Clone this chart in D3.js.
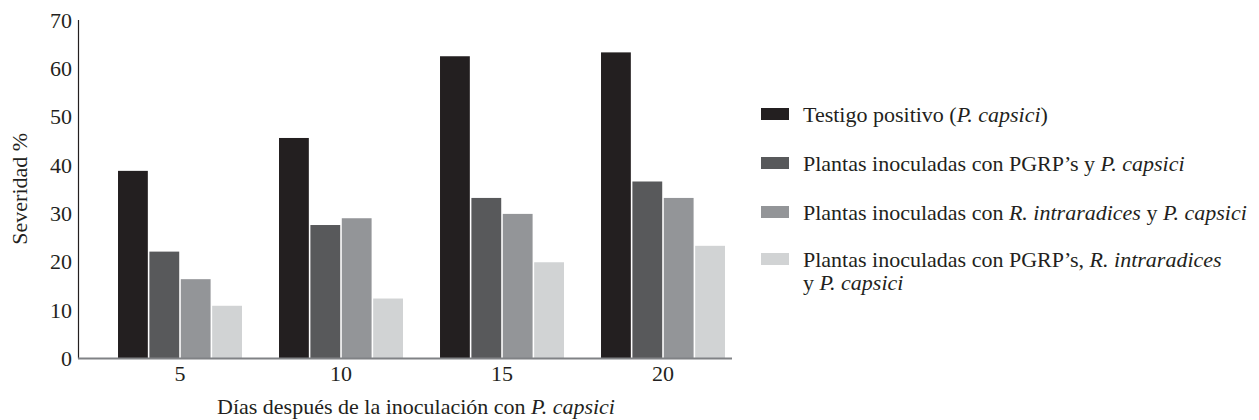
<!DOCTYPE html>
<html>
<head>
<meta charset="utf-8">
<script src="https://cdn.jsdelivr.net/npm/d3@7"></script>
<style>
  html, body { margin: 0; padding: 0; background: #fff; }
  svg { display: block; }
  text { font-family: "Liberation Serif", "DejaVu Serif", serif; fill: #231f20; }
</style>
</head>
<body>
<svg id="chart" width="1259" height="420"></svg>
<script>
const categories = ["5", "10", "15", "20"];
const seriesNames = ["testigo", "pgrp", "rintra", "ambos"];
const testigo = [38.7, 45.5, 62.4, 63.2];
const pgrp = [22.0, 27.5, 33.1, 36.5];
const rintra = [16.3, 28.9, 29.8, 33.1];
const ambos = [10.8, 12.3, 19.8, 23.2];
const seriesColors = ["#231f20", "#58595b", "#939598", "#d1d3d4"];
const yTicks = [0, 10, 20, 30, 40, 50, 60, 70];
const legendLines = [
  [[{t: "Testigo positivo (", i: false}, {t: "P. capsici", i: true}, {t: ")", i: false}]],
  [[{t: "Plantas inoculadas con PGRP\u2019s y ", i: false}, {t: "P. capsici", i: true}]],
  [[{t: "Plantas inoculadas con ", i: false}, {t: "R. intraradices", i: true}, {t: " y ", i: false}, {t: "P. capsici", i: true}]],
  [[{t: "Plantas inoculadas con PGRP\u2019s, ", i: false}, {t: "R. intraradices", i: true}],
   [{t: "y ", i: false}, {t: "P. capsici", i: true}]]
];
const yTitle = "Severidad %";
const xTitle = [{t: "Días después de la inoculación con ", i: false}, {t: "P. capsici", i: true}];

const seriesValues = [testigo, pgrp, rintra, ambos];
const data = categories.map((c, ci) => ({cat: c, vals: seriesNames.map((s, si) => ({s, v: seriesValues[si][ci]}))}));

const svg = d3.select("#chart");
const axisLeftX = 78, axisRightX = 732, y0 = 358, yTop = 19.5;
const FS = 22;

const x = d3.scaleBand().domain(categories).range([99.5, 743.5]).paddingInner(0.23).paddingOuter(0.115);
const xs = d3.scaleBand().domain(seriesNames).range([0, x.bandwidth()]).paddingInner(0.05);
const y = d3.scaleLinear().domain([0, 70]).range([y0, yTop]);
const color = d3.scaleOrdinal().domain(seriesNames).range(seriesColors);

// bars
const g = svg.append("g");
g.selectAll("g.grp").data(data).join("g")
  .attr("class", "grp")
  .attr("transform", d => `translate(${x(d.cat)},0)`)
  .selectAll("rect").data(d => d.vals).join("rect")
  .attr("x", d => xs(d.s))
  .attr("width", xs.bandwidth())
  .attr("y", d => y(d.v))
  .attr("height", d => y(0) - y(d.v))
  .attr("fill", d => color(d.s));

// y axis
const yAxis = svg.append("g").attr("transform", `translate(${axisLeftX},0)`)
  .call(d3.axisLeft(y).tickValues(yTicks).tickSize(0).tickPadding(6).tickFormat(d3.format("d")));
yAxis.select(".domain").attr("stroke", "#231f20").attr("stroke-width", 1.2);
yAxis.selectAll(".tick text").attr("font-size", FS).attr("font-family", "Liberation Serif").attr("fill", "#231f20").attr("dy", "0.35em");

// x axis
const xAxis = svg.append("g").attr("transform", `translate(0,${y0})`)
  .call(d3.axisBottom(x).tickSize(0).tickPadding(7));
xAxis.select(".domain").remove();
xAxis.selectAll(".tick text").attr("font-size", FS).attr("font-family", "Liberation Serif").attr("fill", "#231f20");
svg.append("line").attr("x1", axisLeftX).attr("x2", axisRightX).attr("y1", y0 + 0.5).attr("y2", y0 + 0.5)
  .attr("stroke", "#808285").attr("stroke-width", 1.8);

// y title
svg.append("text")
  .attr("transform", `translate(19,${(y0 + yTop) / 2}) rotate(-90)`)
  .attr("text-anchor", "middle").attr("dy", "0.35em")
  .attr("font-size", FS).text(yTitle);

// x title
const xt = svg.append("text").attr("x", 416).attr("y", 406)
  .attr("text-anchor", "middle").attr("dy", "0.35em").attr("font-size", FS);
xt.selectAll("tspan").data(xTitle).join("tspan").attr("font-style", d => d.i ? "italic" : "normal").text(d => d.t);

// legend
const legY = [114, 163, 212, 259];
const leg = svg.append("g");
legendLines.forEach((lines, i) => {
  leg.append("rect").attr("x", 761).attr("y", legY[i] - 6).attr("width", 28).attr("height", 12).attr("fill", seriesColors[i]);
  lines.forEach((parts, li) => {
    const t = leg.append("text").attr("x", 803).attr("y", legY[i] + li * 23).attr("dy", "0.35em").attr("font-size", FS);
    t.selectAll("tspan").data(parts).join("tspan").attr("font-style", d => d.i ? "italic" : "normal").text(d => d.t);
  });
});
</script>
</body>
</html>
